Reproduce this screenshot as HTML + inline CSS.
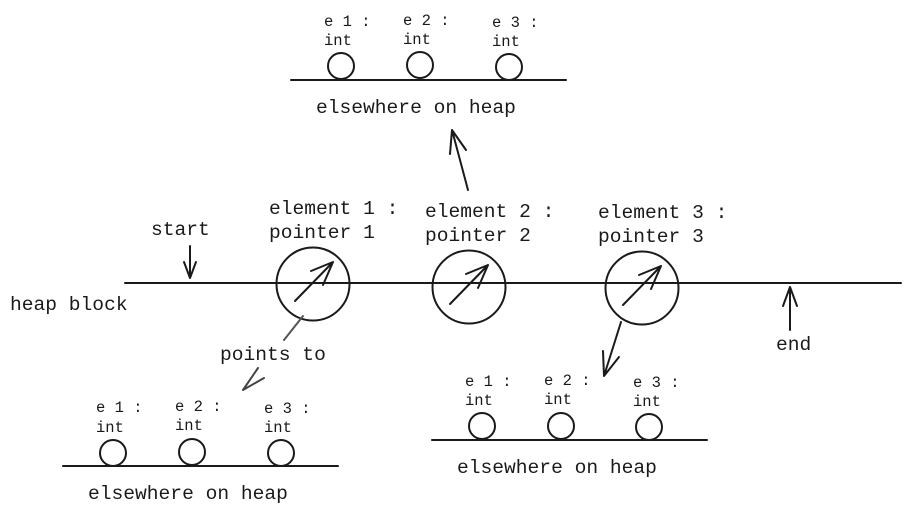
<!DOCTYPE html>
<html><head><meta charset="utf-8"><style>
html,body{margin:0;padding:0;background:#fff;}
svg{display:block;}
text{font-family:"Liberation Mono","DejaVu Sans Mono",monospace;fill:#1a1a1a;}
.b{font-size:19.6px;}
.s{font-size:15.5px;}
</style></head><body>
<svg width="911" height="514" viewBox="0 0 911 514" xmlns="http://www.w3.org/2000/svg">
<g stroke="#1a1a1a" stroke-width="2" fill="none" stroke-linecap="round" stroke-linejoin="round">
<line x1="291" y1="80" x2="566" y2="80"/>
<circle cx="341" cy="66" r="13"/><circle cx="420" cy="65" r="13"/><circle cx="509" cy="67" r="13"/>
<line x1="63" y1="466" x2="338" y2="466"/>
<circle cx="113" cy="453" r="13"/><circle cx="192" cy="452" r="13"/><circle cx="281" cy="453" r="13"/>
<line x1="432" y1="440" x2="707" y2="440"/>
<circle cx="482" cy="426" r="13"/><circle cx="561" cy="426" r="13"/><circle cx="649" cy="427" r="13"/>
<line x1="125" y1="283" x2="901" y2="283"/>
<circle cx="313" cy="284" r="36.5"/><circle cx="469" cy="287" r="36.5"/><circle cx="642" cy="288" r="36.5"/>
<path d="M295 301 L333 262 M311 271 L333 262 L323 285"/>
<path d="M450 304 L488 265 M466 274 L488 265 L478 288"/>
<path d="M623 305 L661 266 M639 275 L661 266 L651 289"/>
<path d="M190 246 L190 278 M184 262 L190 278 L196 262"/>
<path d="M790 330 L790 287 M783 306 L790 287 L797 306"/>
<path d="M468 190 L452 130 M450 154 L452 130 L466 150"/>
<path d="M621 322 L604 376 M603 351 L604 376 L619 357"/>
<path d="M303 316 L284 340" stroke="#555"/>
<path d="M243 390 L258 368 M243 390 L264 378" stroke="#444"/>
</g>
<text class="s" x="324" y="26">e 1 :</text><text class="s" x="324" y="45">int</text>
<text class="s" x="403" y="25">e 2 :</text><text class="s" x="403" y="44">int</text>
<text class="s" x="492" y="27">e 3 :</text><text class="s" x="492" y="46">int</text>
<text class="b" x="316" y="113">elsewhere on heap</text>

<text class="s" x="96" y="412">e 1 :</text><text class="s" x="96" y="432">int</text>
<text class="s" x="175" y="411">e 2 :</text><text class="s" x="175" y="430">int</text>
<text class="s" x="264" y="413">e 3 :</text><text class="s" x="264" y="432">int</text>
<text class="b" x="88" y="499">elsewhere on heap</text>

<text class="s" x="465" y="386">e 1 :</text><text class="s" x="465" y="405">int</text>
<text class="s" x="544" y="385">e 2 :</text><text class="s" x="544" y="404">int</text>
<text class="s" x="633" y="387">e 3 :</text><text class="s" x="633" y="406">int</text>
<text class="b" x="457" y="473">elsewhere on heap</text>

<text class="b" x="269" y="214">element 1 :</text><text class="b" x="269" y="238">pointer 1</text>
<text class="b" x="425" y="217">element 2 :</text><text class="b" x="425" y="241">pointer 2</text>
<text class="b" x="598" y="218">element 3 :</text><text class="b" x="598" y="242">pointer 3</text>
<text class="b" x="151" y="235">start</text>
<text class="b" x="10" y="310">heap block</text>
<text class="b" x="776" y="350">end</text>
<text class="b" x="220" y="360">points to</text>
</svg>
</body></html>
